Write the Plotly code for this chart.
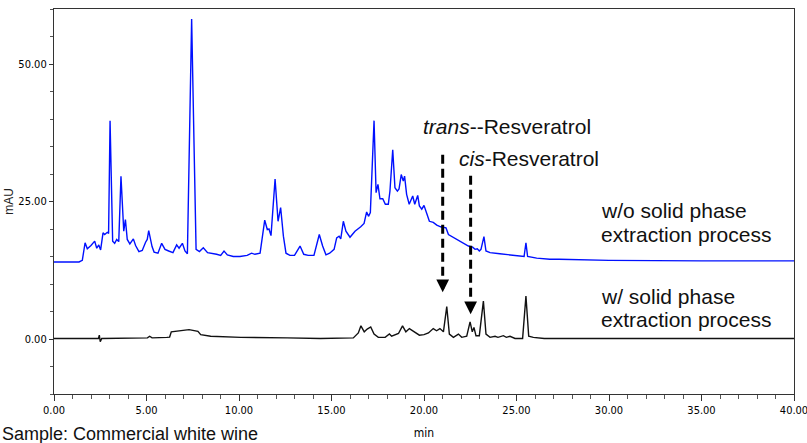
import plotly.graph_objects as go

# ---- data ----
# blue trace: without solid phase extraction (time min, mAU)
blue_time = [0, 1.35, 1.53, 1.68, 1.8, 2.0, 2.2, 2.31, 2.42, 2.52, 2.65, 2.74, 2.88, 2.95,
             3.03, 3.17, 3.28, 3.39, 3.50, 3.62, 3.77, 3.86, 3.96, 4.1, 4.29, 4.41, 4.59,
             4.77, 4.95, 5.04, 5.12, 5.3, 5.41, 5.62, 5.82, 6.0, 6.2, 6.43, 6.63, 6.76,
             6.94, 7.08, 7.21, 7.33, 7.44, 7.56, 7.68, 7.86, 8.07, 8.3, 8.52, 8.79, 9.01,
             9.19, 9.37, 9.69, 10.05, 10.44, 10.68, 10.86, 11.14, 11.39, 11.53, 11.62,
             11.73, 11.95, 12.11, 12.25, 12.4, 12.54, 12.75, 13.0, 13.3, 13.5, 13.74,
             14.05, 14.34, 14.52, 14.7, 14.9, 15.14, 15.28, 15.41, 15.5, 15.64, 15.78,
             16.0, 16.27, 16.58, 16.76, 16.9, 17.0, 17.1, 17.3, 17.41, 17.51, 17.62,
             17.77, 17.91, 18.07, 18.16, 18.31, 18.43, 18.56, 18.65, 18.77, 18.88,
             18.95, 19.06, 19.2, 19.39, 19.5, 19.66, 19.75, 19.88, 20.0, 20.14, 20.29,
             20.5, 20.69, 20.9, 21.19, 21.32, 21.59, 21.95, 22.4, 22.63, 22.76, 22.88,
             22.99, 23.08, 23.24, 23.35, 23.57, 24.1, 24.64, 25.19, 25.41, 25.51, 25.6,
             26.09, 26.8, 27.3, 30, 35, 40]
blue_mau = [14.0, 14.0, 14.3, 17.5, 16.4, 17.0, 17.8, 16.5, 17.1, 16.2, 19.3, 19.0, 19.4, 19.2,
            39.7, 17.8, 17.4, 18.1, 17.7, 29.6, 19.6, 21.7, 18.1, 17.3, 18.2, 17.0, 15.9,
            16.1, 17.6, 18.1, 19.7, 16.8, 15.8, 15.6, 17.4, 16.3, 16.0, 15.7, 17.1, 16.5,
            17.4, 16.0, 15.5, 37.0, 58.2, 37.0, 16.3, 15.9, 16.6, 15.7, 15.6, 15.4, 15.2,
            16.0, 15.3, 15.0, 15.0, 15.2, 15.6, 15.4, 15.6, 21.6, 19.9, 20.0,
            18.8, 29.1, 21.4, 23.9, 18.7, 15.6, 15.2, 15.2, 16.9, 15.4, 15.2,
            15.2, 19.0, 16.9, 15.3, 15.6, 16.3, 18.4, 18.7, 18.2, 21.4, 19.6,
            18.5, 19.6, 20.4, 21.0, 23.1, 22.3, 23.0, 39.7, 26.6, 28.1, 25.5,
            25.5, 24.5, 24.5, 26.9, 34.4, 27.5, 26.9, 27.3, 29.9, 28.7,
            29.6, 26.3, 24.5, 26.0, 24.5, 26.1, 24.2, 23.6, 24.3, 22.9, 21.4,
            21.2, 20.7, 20.4, 20.2, 19.0, 18.5, 17.8, 16.9, 16.7, 16.3, 16.4,
            16.0, 16.3, 18.6, 16.0, 15.7, 15.5, 15.3, 15.0, 15.0, 17.5, 15.0,
            14.7, 14.5, 14.5, 14.3, 14.2, 14.2]

# black trace: with solid phase extraction (time min, mAU)
black_time = [0, 2.4, 2.45, 2.5, 2.58, 5.05, 5.17, 5.3, 6.1, 6.25, 6.34, 6.84, 7.3, 7.78, 7.93,
              8.47, 10.1, 12.6, 14.4, 16.18, 16.45, 16.59, 16.77, 16.93, 17.12, 17.3, 17.53,
              17.9, 18.13, 18.25, 18.62, 18.84, 19.02, 19.21, 19.39, 19.57, 19.75, 20.0,
              20.24, 20.5, 20.68, 20.86, 21.05, 21.23, 21.37, 21.59, 21.86, 22.04, 22.31,
              22.49, 22.61, 22.7, 22.81, 22.99, 23.21, 23.35, 23.57, 23.84, 24.0, 24.29,
              24.45, 24.65, 24.92, 25.33, 25.51, 25.66, 25.91, 26.5, 40]
black_mau = [0.1, 0.1, 0.7, -0.5, 0.1, 0.2, 0.5, 0.2, 0.3, 0.35, 1.3, 1.5, 1.7, 1.4, 0.8,
             0.5, 0.3, 0.2, 0.1, 0.2, 1.1, 2.4, 1.3, 1.8, 2.2, 0.9, 0.3,
             0.3, 0.9, 0.5, 1.0, 2.4, 1.3, 1.9, 1.5, 1.2, 0.7, 0.8,
             1.1, 1.9, 1.5, 1.9, 1.3, 5.9, 0.9, 0.3, 0.9, 0.3, 0.5,
             3.1, 1.3, 2.1, 0.6, 0.6, 6.9, 0.9, 0.3, 0.5, 0.3, 0.6,
             0.3, 0.5, 0.1, 0.1, 7.8, 0.5, 0.3, 0.1, 0.1]

# annotated compounds: retention time, arrow top, arrow tip (mAU)
arrow_time = [21.01, 22.52]
arrow_top = [33.5, 29.7]
arrow_tip = [8.5, 4.5]

x_ticks = [0, 5, 10, 15, 20, 25, 30, 35, 40]
y_ticks = [0, 25, 50]

TICKFONT = dict(family="Liberation Sans Narrow, Arial Narrow, DejaVu Sans Condensed, sans-serif",
                size=11, color="#000")
TEXTFONT = dict(family="Liberation Sans, Arial, sans-serif", size=21, color="#111")

fig = go.Figure()
fig.add_trace(go.Scatter(x=blue_time, y=blue_mau, mode="lines",
                         line=dict(color="#0010ff", width=1.4), hoverinfo="skip"))
fig.add_trace(go.Scatter(x=black_time, y=black_mau, mode="lines",
                         line=dict(color="#111", width=1.4), hoverinfo="skip"))

for t, top, tip in zip(arrow_time, arrow_top, arrow_tip):
    head_base = tip + 2.0
    fig.add_trace(go.Scatter(x=[t, t], y=[top, head_base + 0.3], mode="lines",
                             line=dict(color="black", width=3, dash="9px,5px"),
                             hoverinfo="skip"))
    fig.add_annotation(x=t, y=tip, ax=t, ay=head_base, xref="x", yref="y",
                       axref="x", ayref="y", showarrow=True, arrowhead=2,
                       arrowsize=0.85, arrowwidth=3, arrowcolor="black", text="",
                       standoff=0)

texts = [
    ("<i>trans</i>--Resveratrol", 19.82, 38.6),
    ("<i>cis</i>-Resveratrol", 21.8, 32.9),
    ("w/o solid phase", 29.46, 23.4),
    ("extraction process", 29.46, 19.0),
    ("w/ solid phase", 29.46, 7.8),
    ("extraction process", 29.46, 3.5),
]
for txt, x, y in texts:
    fig.add_annotation(x=x, y=y, xref="x", yref="y", text=txt, showarrow=False,
                       xanchor="left", yanchor="middle", font=TEXTFONT)

fig.add_annotation(x=-54 / 740, y=-0.103, xref="paper", yref="paper",
                   text="Sample: Commercial white wine", showarrow=False,
                   xanchor="left", yanchor="middle",
                   font=dict(family="Liberation Sans, Arial, sans-serif", size=18, color="#111"))

fig.update_layout(
    width=807, height=443,
    margin=dict(l=54, r=13, t=9, b=49, autoexpand=False),
    paper_bgcolor="white", plot_bgcolor="white",
    showlegend=False,
    xaxis=dict(range=[0, 40], tickvals=x_ticks, ticktext=[f"{v:.2f}" for v in x_ticks],
               ticks="outside", ticklen=6, tickwidth=1, tickcolor="#333",
               minor=dict(dtick=1, tick0=0, ticks="outside", ticklen=4, tickcolor="#555"),
               showline=True, linecolor="#333", linewidth=1.2, mirror=True,
               showgrid=False, zeroline=False, tickfont=TICKFONT, automargin=False,
               ticklabeloverflow="allow",
               title=dict(text="min", font=dict(TICKFONT, size=12), standoff=12)),
    yaxis=dict(range=[-10, 60], tickvals=y_ticks, ticktext=[f"{v:.2f}" for v in y_ticks],
               ticks="outside", ticklen=4, tickwidth=1, tickcolor="#333",
               minor=dict(dtick=5, tick0=0, ticks="outside", ticklen=3, tickcolor="#555"),
               showline=True, linecolor="#333", linewidth=1.2, mirror=True,
               showgrid=False, zeroline=False, tickfont=TICKFONT, automargin=False,
               ticklabeloverflow="allow",
               title=dict(text="mAU", font=dict(family="Liberation Sans, Arial, sans-serif",
                                                size=12, color="#222"), standoff=2)),
)

fig.write_html("out.html")
